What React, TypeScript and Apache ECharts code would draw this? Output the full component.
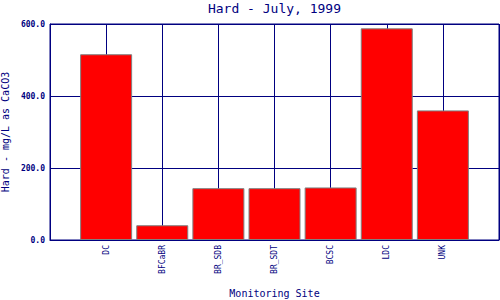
import React, { useEffect, useRef } from "react";
import * as echarts from "echarts";

const categories = ["DC", "BFCaBR", "BR_SDB", "BR_SDT", "BCSC", "LDC", "UNK"];
const values = [516, 41, 144, 144, 146, 588, 360];
const yTicks = { min: 0, max: 600, interval: 200 };

const NAVY = "#000080";
const MONO = "'DejaVu Sans Mono', 'Liberation Mono', monospace";

export default function App() {
  const ref = useRef<HTMLDivElement>(null);
  useEffect(() => {
    if (!ref.current) return;
    const chart = echarts.init(ref.current, undefined, { renderer: "svg" });
    const axisCats = ["", ...categories, ""];
    const data: (number | string)[] = ["-", ...values, "-"];
    chart.setOption({
      animation: false,
      backgroundColor: "#ffffff",
      title: {
        text: "Hard - July, 1999",
        left: 274.5,
        textAlign: "center",
        top: 2,
        padding: 0,
        textStyle: { color: NAVY, fontFamily: MONO, fontSize: 13, fontWeight: "normal" },
      },
      grid: {
        left: 50,
        right: 1,
        top: 24,
        bottom: 60,
        containLabel: false,
        outerBoundsMode: "none",
        show: true,
        borderColor: NAVY,
        borderWidth: 1,
        backgroundColor: "#ffffff",
      },
      xAxis: {
        type: "category",
        data: axisCats,
        boundaryGap: false,
        name: "Monitoring Site",
        nameLocation: "middle",
        nameGap: 48,
        nameTextStyle: { color: NAVY, fontFamily: MONO, fontSize: 10 },
        axisLine: { show: true, lineStyle: { color: NAVY, width: 1 } },
        axisTick: { show: false },
        splitLine: { show: true, lineStyle: { color: NAVY, width: 1 } },
        axisLabel: {
          interval: 0,
          rotate: 90,
          margin: 5,
          color: NAVY,
          fontFamily: MONO,
          fontSize: 8,
        },
      },
      yAxis: {
        type: "value",
        min: yTicks.min,
        max: yTicks.max,
        interval: yTicks.interval,
        name: "Hard - mg/L as CaCO3",
        nameLocation: "middle",
        nameGap: 36,
        nameTextStyle: { color: NAVY, fontFamily: MONO, fontSize: 10 },
        axisLine: { show: true, lineStyle: { color: NAVY, width: 1 } },
        axisTick: { show: false },
        splitLine: { show: true, lineStyle: { color: NAVY, width: 1 } },
        axisLabel: {
          margin: 5,
          color: NAVY,
          fontFamily: MONO,
          fontSize: 8,
          fontWeight: "bold",
          formatter: (v: number) => v.toFixed(1),
        },
      },
      series: [
        {
          type: "bar",
          data,
          barWidth: 52,
          itemStyle: { color: "#ff0000", borderColor: "#808080", borderWidth: 1 },
        },
      ],
    });
    return () => chart.dispose();
  }, []);
  return (
    <div
      ref={ref}
      style={{ position: "fixed", left: 0, top: 0, width: 500, height: 300 }}
    />
  );
}
